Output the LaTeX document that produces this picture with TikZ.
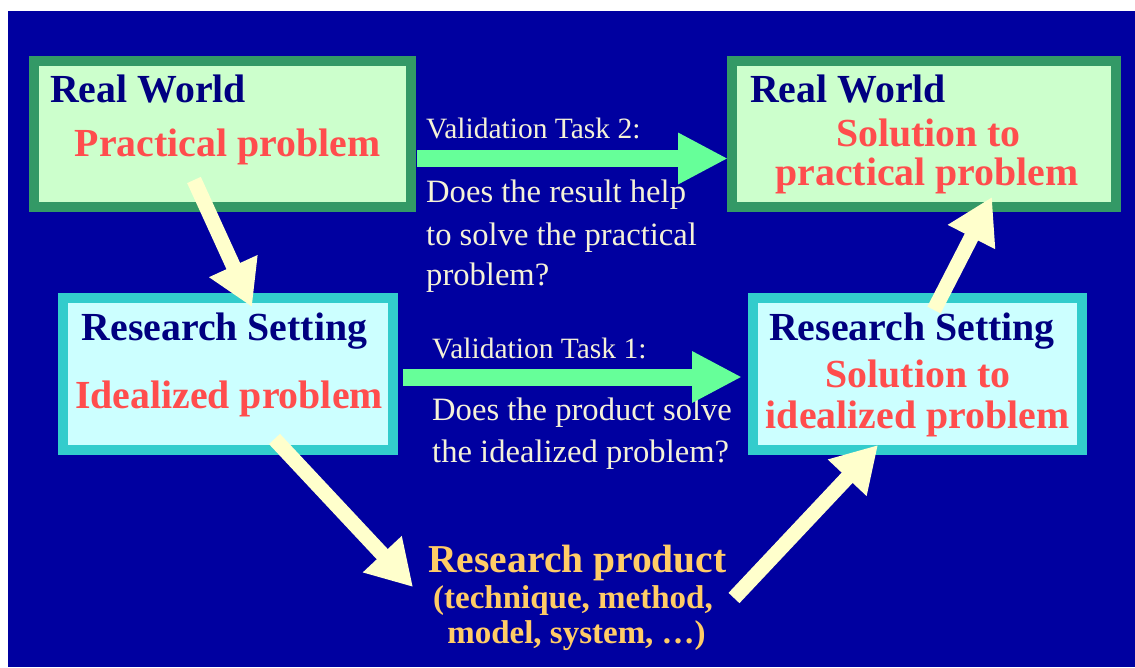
\documentclass[tikz,border=0pt]{standalone}
\usepackage{fontspec}
\setmainfont{Liberation Serif}
\usetikzlibrary{arrows.meta,calc}
\definecolor{bg}{RGB}{0,0,160}
\definecolor{gborder}{RGB}{51,153,102}
\definecolor{gfill}{RGB}{204,255,204}
\definecolor{cborder}{RGB}{51,204,204}
\definecolor{cfill}{RGB}{204,255,255}
\definecolor{navy}{RGB}{0,0,128}
\definecolor{redt}{RGB}{255,77,77}
\definecolor{garrow}{RGB}{102,255,153}
\definecolor{yarrow}{RGB}{255,255,204}
\definecolor{cream}{RGB}{245,242,215}
\definecolor{orangetxt}{RGB}{255,204,102}
\tikzset{
  gbox/.style={draw=gborder, fill=gfill, line width=10pt, inner sep=0pt},
  cbox/.style={draw=cborder, fill=cfill, line width=10pt, inner sep=0pt},
  ttl/.style={font=\fontsize{39.8}{44}\selectfont\bfseries, text=navy, inner sep=0pt, anchor=base west},
  redtxt/.style={font=\fontsize{39.8}{44}\selectfont\bfseries, text=redt, inner sep=0pt, anchor=base},
  vlabel/.style={font=\fontsize{29.5}{32}\selectfont, text=cream, inner sep=0pt, anchor=base west},
  vq/.style={font=\fontsize{32.6}{36}\selectfont, text=cream, inner sep=0pt, anchor=base west},
  prodbig/.style={font=\fontsize{39.5}{44}\selectfont\bfseries, text=orangetxt, inner sep=0pt, anchor=base},
  prodsmall/.style={font=\fontsize{33}{36}\selectfont\bfseries, text=orangetxt, inner sep=0pt, anchor=base},
  garr/.style={draw=garrow, line width=17pt, -{Triangle[width=48pt,length=50pt]}},
  yarr/.style={draw=yarrow, line width=15pt, -{Triangle[width=50pt,length=45pt]}}
}
\begin{document}
\begin{tikzpicture}[x=1pt,y=-1pt]
\useasboundingbox (0,0) rectangle (1135,667);
\fill[bg] (8,11) rectangle (1135,667);
% boxes
\node[gbox, minimum width=377pt, minimum height=146pt] (rw1) at (222.5,134) {};
\node[gbox, minimum width=384pt, minimum height=146pt] (rw2) at (924,134) {};
\node[cbox, minimum width=330pt, minimum height=152pt] (rs1) at (228,374) {};
\node[cbox, minimum width=329pt, minimum height=152pt] (rs2) at (917.5,374) {};
% box texts
\node[ttl] (rw1t) at (50,102) {Real World};
\node[redtxt] (rw1p) at (227.5,156) {Practical problem};
\node[ttl] (rw2t) at (750,102) {Real World};
\node[redtxt] (rw2a) at (928.5,146) {Solution to};
\node[redtxt] (rw2b) at (927,185) {practical problem};
\node[ttl, anchor=base] (rs1t) at (224.5,340) {Research Setting};
\node[redtxt] (rs1p) at (229,408) {Idealized problem};
\node[ttl, anchor=base] (rs2t) at (912,340) {Research Setting};
\node[redtxt] (rs2a) at (918,387) {Solution to};
\node[redtxt] (rs2b) at (917.5,428) {idealized problem};
% validation texts
\node[vlabel] (v2) at (426,138) {Validation Task 2:};
\node[vq] (v2a) at (426,202) {Does the result help};
\node[vq] (v2b) at (426,245) {to solve the practical};
\node[vq] (v2c) at (426,285) {problem?};
\node[vlabel] (v1) at (432,358) {Validation Task 1:};
\node[vq] (v1a) at (432,420) {Does the product solve};
\node[vq] (v1b) at (432,462) {the idealized problem?};
% research product
\node[prodbig] (prod) at (577.5,572) {Research product};
\node[prodsmall] (prod2) at (573,608) {(technique, method,};
\node[prodsmall] (prod3) at (576.5,643) {model, system, \dots)};
% green arrows
\draw[garr] ($(rw1.east)+(1,24.5)$) -- ($(rw2.west)+(1,24.5)$);
\draw[garr] ($(rs1.east)+(5,3)$) -- ($(rs2.west)+(-6,3)$);
% yellow arrows
\coordinate (y1s) at (194,180);
\coordinate (y1e) at (252,307);
\coordinate (y2s) at (274.5,439);
\coordinate (y2e) at (413,587);
\coordinate (y3s) at (734,598);
\coordinate (y3e) at (878,445);
\coordinate (y4s) at (934,310);
\coordinate (y4e) at (992,197);
\draw[yarr] (y1s) -- (y1e);
\draw[yarr] (y2s) -- (y2e);
\draw[yarr] (y3s) -- (y3e);
\draw[yarr] (y4s) -- (y4e);
\end{tikzpicture}
\end{document}
